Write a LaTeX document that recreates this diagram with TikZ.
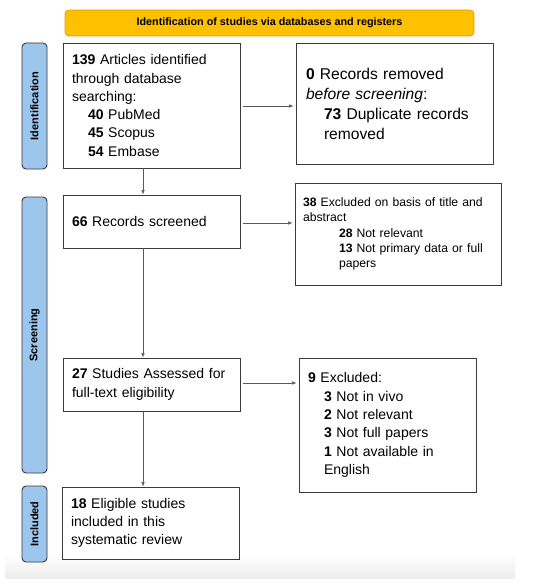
\documentclass[tikz,border=0pt]{standalone}
\usepackage{fontspec}
\setmainfont{Liberation Sans}
\usetikzlibrary{arrows.meta,positioning}
\definecolor{bannerfill}{HTML}{FFC000}
\definecolor{bannerdraw}{HTML}{E0A200}
\definecolor{sidefill}{HTML}{9DC6EC}
\definecolor{boxdraw}{HTML}{3A3A3A}
\tikzset{
  flowbox/.style={draw=boxdraw, line width=0.9pt, fill=white, align=left, anchor=center,
    inner sep=0pt, font=\fontsize{14}{18.3}\selectfont},
  sidebar/.style={draw=boxdraw, line width=0.9pt, fill=sidefill, rounded corners=4pt},
  sidelabel/.style={rotate=90, font=\bfseries\fontsize{11}{13}\selectfont, inner sep=0pt},
  conn/.style={draw=gray!70!black, line width=0.6pt, -{Latex[length=4.5pt,width=3.5pt]}}
}
\begin{document}
\begin{tikzpicture}[x=1pt,y=-1pt]
\useasboundingbox (0,0) rectangle (550,586);
% bottom shade
\shade[top color=white, bottom color=gray!14] (5,553) rectangle (515,578);
% banner
\node[draw=bannerdraw, line width=0.8pt, fill=bannerfill, rounded corners=4pt,
  minimum width=409pt, minimum height=26pt, inner sep=0pt,
  font=\bfseries\fontsize{10.8}{13}\selectfont] (banner) at (269.5,23)
  {Identification of studies via databases and registers};
% side bars
\draw[sidebar] (22,43) rectangle (47,169) node[midway, sidelabel] (lid) {Identification};
\draw[sidebar] (22,197) rectangle (47,473) node[midway, sidelabel] (lsc) {Screening};
\draw[sidebar] (22,486) rectangle (47,562) node[midway, sidelabel] (lin) {Included};
% left column
\node[flowbox, minimum width=177pt, minimum height=125pt, text width=159pt] (b1) at (151.5,105.5)
  {\textbf{139} Articles identified\\through database\\searching:\\
   \hspace*{16pt}\textbf{40} PubMed\\\hspace*{16pt}\textbf{45} Scopus\\\hspace*{16pt}\textbf{54} Embase};
\node[flowbox, minimum width=177pt, minimum height=53pt, text width=159pt] (b2) at (151.5,221.5)
  {\textbf{66} Records screened};
\node[flowbox, minimum width=177pt, minimum height=53pt, text width=159pt] (b3) at (151.5,384.5)
  {\textbf{27} Studies Assessed for\\full-text eligibility};
\node[flowbox, minimum width=177pt, minimum height=72pt, text width=159pt] (b4) at (150.5,523)
  {\textbf{18} Eligible studies\\included in this\\systematic review};
% right column
\node[flowbox, minimum width=197pt, minimum height=121pt, text width=177pt,
  font=\fontsize{15.6}{20}\selectfont] (r1) at (394.5,103.5)
  {\textbf{0} Records removed\\\textit{before screening}:\\
   \hspace*{18pt}\textbf{73} Duplicate records\\\hspace*{18pt}removed};
\node[flowbox, minimum width=206pt, minimum height=102pt, text width=190pt,
  font=\fontsize{12.2}{15.3}\selectfont] (r2) at (398,234)
  {\textbf{38} Excluded on basis of title and\\abstract\\
   \hspace*{36pt}\textbf{28} Not relevant\\\hspace*{36pt}\textbf{13} Not primary data or full\\\hspace*{36pt}papers};
\node[flowbox, minimum width=177pt, minimum height=134pt, text width=159pt] (r3) at (387.5,425)
  {\textbf{9} Excluded:\\\hspace*{16pt}\textbf{3} Not in vivo\\\hspace*{16pt}\textbf{2} Not relevant\\
   \hspace*{16pt}\textbf{3} Not full papers\\\hspace*{16pt}\textbf{1} Not available in\\\hspace*{16pt}English};
% connectors
\draw[conn, shorten <=3pt, shorten >=2pt] ([yshift=-0.5pt]b1.east) -- ([yshift=-0.5pt]b1.east -| r1.west);
\draw[conn, shorten <=3pt, shorten >=2pt] ([yshift=-1.5pt]b2.east) -- ([yshift=-1.5pt]b2.east -| r2.west);
\draw[conn, shorten <=3pt, shorten >=2pt] ([yshift=1.5pt]b3.east) -- ([yshift=1.5pt]b3.east -| r3.west);
\draw[conn] ([xshift=-8.5pt]b1.south) -- ([xshift=-8.5pt]b1.south |- b2.north);
\draw[conn] ([xshift=-8.5pt]b2.south) -- ([xshift=-8.5pt]b2.south |- b3.north);
\draw[conn] ([xshift=-8.5pt]b3.south) -- ([xshift=-8.5pt]b3.south |- b4.north);
\end{tikzpicture}
\end{document}
